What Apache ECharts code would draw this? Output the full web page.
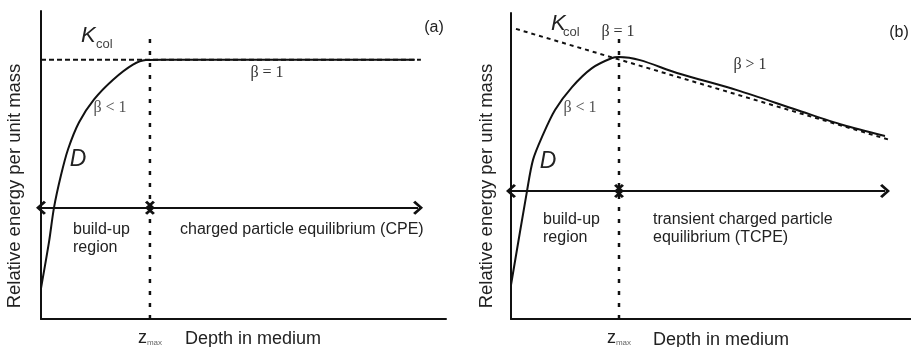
<!DOCTYPE html>
<html><head><meta charset="utf-8">
<script src="https://cdn.jsdelivr.net/npm/echarts@6/dist/echarts.min.js"></script>
<style>html,body{margin:0;padding:0;background:#fff}#c{width:911px;height:347px}</style>
</head><body><div id="c"></div><script>
// ---- Panel (a): dose D vs depth, CPE ----
const aCurveX = [0, 2.0, 3.2, 4.9, 6.7, 9.4, 13.1, 17.8, 22.7, 25.9, 30.0, 92.3];
const aCurveY = [10.0, 25.2, 36.1, 46.5, 55.2, 63.9, 71.3, 77.7, 82.6, 84.1, 84.2, 84.2];
const aKcolX = [0, 93.8];
const aKcolY = [84.2, 84.2];
const aZmax = 26.9;
const aZmaxTop = 92.3;
const aArrowY = 36.1;
const aArrowEnd = 93.1;

// ---- Panel (b): dose D vs depth, TCPE ----
const bCurveX = [0, 4.0, 5.5, 7.75, 11.0, 15.25, 20.25, 25.25, 27.0, 32.25, 41.5, 56.5, 71.5, 83.0, 93.5];
const bCurveY = [11.1, 41.8, 52.0, 59.5, 68.3, 75.8, 82.0, 85.3, 85.6, 84.6, 80.4, 74.8, 68.3, 63.4, 59.8];
const bKcolX = [1.25, 94.75];
const bKcolY = [94.8, 58.5];
const bZmax = 27.0;
const bZmaxTop = 92.2;
const bArrowY = 41.8;
const bArrowEnd = 93.5;

function zip(xs, ys) { return xs.map((x, i) => [x, ys[i]]); }

const INK = '#111';
const SANS = 'Liberation Sans, Arial, sans-serif';
const SERIF = 'Liberation Serif, Times New Roman, serif';
const chevron = 'path://M10,0 L20,9 L17.5,11.5 L10,4.5 L2.5,11.5 L0,9 Z';

function xAx(g, zmax) {
  return {
    type: 'value', gridIndex: g, min: 0, max: 100,
    axisLine: { show: true, onZero: false, lineStyle: { color: INK, width: 2 } },
    axisTick: { show: false }, splitLine: { show: false },
    axisLabel: {
      customValues: [zmax], margin: 10,
      formatter: () => '{z|z}{m|max}',
      rich: {
        z: { fontSize: 18, fontFamily: SANS, color: '#222' },
        m: { fontSize: 8, fontFamily: SANS, color: '#666', verticalAlign: 'bottom' }
      }
    }
  };
}
function yAx(g) {
  return {
    type: 'value', gridIndex: g, min: 0, max: 100,
    axisLine: { show: true, onZero: false, lineStyle: { color: INK, width: 2 } },
    axisTick: { show: false }, axisLabel: { show: false }, splitLine: { show: false }
  };
}
function line(idx, data, opts) {
  return Object.assign({
    type: 'line', xAxisIndex: idx, yAxisIndex: idx, data: data,
    showSymbol: false, symbol: 'none', silent: true,
    lineStyle: { color: INK, width: 2 }
  }, opts || {});
}
function arrows(zmax, y, end) {
  return {
    silent: true, symbol: [chevron, chevron], symbolSize: [14, 10],
    label: { show: false },
    lineStyle: { color: INK, width: 2, type: 'solid' },
    data: [
      [{ coord: [0, y] }, { coord: [zmax, y] }],
      [{ coord: [zmax, y] }, { coord: [end, y] }]
    ]
  };
}

function txt(x, y, text, o) {
  o = o || {};
  return {
    type: 'text', x: x, y: y, rotation: o.rot || 0, silent: true,
    style: {
      text: text, fontSize: o.size || 16, fontFamily: o.family || SANS,
      fontStyle: o.italic ? 'italic' : 'normal',
      fill: o.color || '#222', align: o.align || 'left', verticalAlign: 'middle'
    }
  };
}

const chart = echarts.init(document.getElementById('c'), null, { renderer: 'canvas' });
chart.setOption({
  animation: false,
  backgroundColor: '#fff',
  grid: [
    { left: 41, top: 11, width: 405, height: 310 },
    { left: 511, top: 13, width: 400, height: 306 }
  ],
  xAxis: [xAx(0, aZmax), xAx(1, bZmax)],
  yAxis: [yAx(0), yAx(1)],
  series: [
    line(0, zip(aKcolX, aKcolY), { lineStyle: { color: INK, width: 2, type: [5, 3] } }),
    line(0, zip(aCurveX, aCurveY), { smooth: 0.3, markLine: arrows(aZmax, aArrowY, aArrowEnd) }),
    line(0, [[aZmax, 0], [aZmax, aZmaxTop]], { lineStyle: { color: INK, width: 2.5, type: [4, 8] } }),
    line(1, zip(bKcolX, bKcolY), { lineStyle: { color: INK, width: 2, type: [4, 4] } }),
    line(1, zip(bCurveX, bCurveY), { smooth: 0.3, markLine: arrows(bZmax, bArrowY, bArrowEnd) }),
    line(1, [[bZmax, 0], [bZmax, bZmaxTop]], { lineStyle: { color: INK, width: 2.5, type: [4, 8] } })
  ],
  graphic: [
    // panel (a)
    txt(81, 36, 'K', { size: 22, italic: true }),
    txt(96, 44, 'col', { size: 13, color: '#444' }),
    txt(434, 28, '(a)', { size: 16, align: 'center' }),
    txt(267, 73, 'β = 1', { size: 16, family: SERIF, color: '#333', align: 'center' }),
    txt(110, 108, 'β < 1', { size: 16, family: SERIF, color: '#555', align: 'center' }),
    txt(78, 160, 'D', { size: 23, italic: true, align: 'center' }),
    txt(73, 230, 'build-up', { size: 16 }),
    txt(73, 248, 'region', { size: 16 }),
    txt(180, 230, 'charged particle equilibrium (CPE)', { size: 16 }),
    txt(185, 339, 'Depth in medium', { size: 18 }),
    txt(15, 186, 'Relative energy per unit mass', { size: 18.5, align: 'center', rot: Math.PI / 2 }),
    // panel (b)
    txt(551, 24, 'K', { size: 22, italic: true }),
    txt(563, 32, 'col', { size: 13, color: '#444' }),
    txt(618, 32, 'β = 1', { size: 16, family: SERIF, color: '#333', align: 'center' }),
    txt(899, 33, '(b)', { size: 16, align: 'center' }),
    txt(750, 65, 'β > 1', { size: 16, family: SERIF, color: '#333', align: 'center' }),
    txt(580, 108, 'β < 1', { size: 16, family: SERIF, color: '#555', align: 'center' }),
    txt(548, 162, 'D', { size: 23, italic: true, align: 'center' }),
    txt(543, 220, 'build-up', { size: 16 }),
    txt(543, 238, 'region', { size: 16 }),
    txt(653, 220, 'transient charged particle', { size: 16 }),
    txt(653, 238, 'equilibrium (TCPE)', { size: 16 }),
    txt(653, 340, 'Depth in medium', { size: 18 }),
    txt(487, 186, 'Relative energy per unit mass', { size: 18.5, align: 'center', rot: Math.PI / 2 })
  ]
});
</script></body></html>
